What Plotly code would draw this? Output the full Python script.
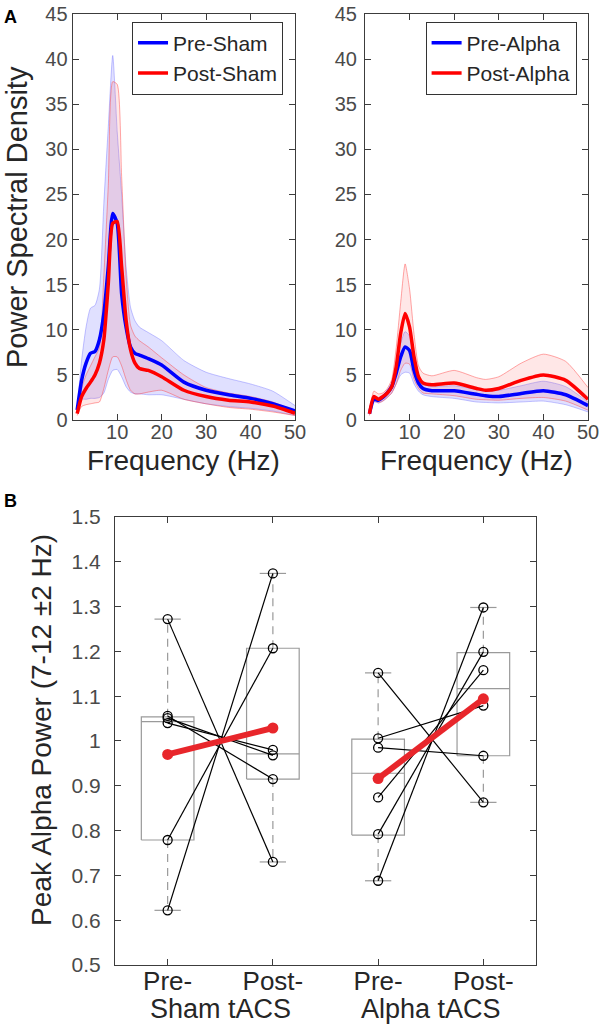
import plotly.graph_objects as go

FONT = "Arial, Liberation Sans, sans-serif"
AXIS_GRAY = '#3c3c3c'
TEXT_GRAY = '#4a4a4a'
TITLE_GRAY = '#262626'
BLUE = '#0000FF'
RED = '#FF0000'

# ---- Panel A (left): sham session, mean PSD with shaded spread
sham_freq = [1, 2, 3, 4, 5, 6, 7, 8, 9, 10, 11, 12, 13, 14, 15, 17, 20, 25, 30, 35, 40, 45, 50]
pre_sham = [1.1, 4.4, 6.3, 7.4, 7.6, 8.9, 11.8, 17.0, 22.9, 21.8, 14.0, 10.3, 8.1, 7.4, 7.2, 6.8, 6.1, 4.2, 3.3, 2.8, 2.4, 1.8, 1.0]
pre_sham_hi = [1.3, 6.6, 10.3, 12.4, 12.7, 14.5, 24.0, 32.5, 40.4, 32.0, 25.0, 17.0, 12.5, 11.0, 10.3, 9.7, 8.8, 6.6, 5.3, 4.6, 4.0, 3.2, 1.6]
pre_sham_lo = [0.9, 2.3, 2.3, 2.4, 2.4, 2.5, 3.0, 4.5, 5.5, 5.6, 4.8, 3.7, 3.1, 2.9, 2.9, 2.8, 2.8, 2.3, 1.8, 1.5, 1.3, 1.0, 0.5]
post_sham = [0.7, 2.6, 3.5, 4.2, 5.0, 6.3, 8.9, 15.1, 21.8, 22.0, 17.0, 11.1, 7.8, 6.3, 5.7, 5.5, 4.8, 3.3, 2.6, 2.2, 2.0, 1.55, 0.75]
post_sham_hi = [0.9, 3.5, 5.0, 6.0, 7.0, 8.0, 16.0, 26.0, 37.5, 37.2, 27.0, 16.0, 10.5, 9.3, 8.8, 8.1, 6.9, 5.0, 3.6, 3.0, 2.6, 2.0, 1.0]
post_sham_lo = [0.5, 1.5, 1.7, 1.8, 1.9, 2.0, 3.5, 5.5, 7.0, 7.0, 6.0, 4.5, 3.3, 2.9, 2.9, 3.1, 3.3, 2.3, 1.8, 1.4, 1.2, 0.9, 0.5]

# ---- Panel A (right): alpha session
alpha_freq = [1, 2, 3, 4, 5, 6, 7, 8, 9, 10, 11, 12, 13, 15, 20, 25, 27, 30, 35, 40, 45, 50]
pre_alpha = [0.7, 2.3, 2.2, 2.5, 3.0, 3.7, 5.2, 7.0, 8.1, 7.7, 5.5, 4.1, 3.5, 3.25, 3.25, 2.85, 2.7, 2.6, 2.95, 3.25, 2.8, 1.6]
pre_alpha_hi = [0.8, 2.6, 2.5, 2.8, 3.3, 4.2, 6.0, 8.5, 9.8, 9.3, 6.5, 4.6, 4.0, 3.7, 3.8, 3.4, 3.3, 3.3, 3.8, 4.3, 3.7, 2.0]
pre_alpha_lo = [0.6, 2.0, 1.9, 2.1, 2.5, 3.0, 4.0, 5.0, 5.3, 5.2, 4.0, 3.2, 2.8, 2.6, 2.4, 2.0, 1.95, 1.9, 2.0, 2.1, 1.7, 0.9]
post_alpha = [0.7, 2.6, 2.3, 2.6, 3.0, 3.7, 5.9, 9.6, 11.8, 10.3, 7.0, 4.8, 4.1, 3.9, 4.1, 3.5, 3.3, 3.5, 4.4, 5.0, 4.4, 2.3]
post_alpha_hi = [0.9, 3.2, 2.9, 3.0, 3.5, 4.5, 8.0, 13.0, 17.3, 14.5, 9.5, 6.0, 5.2, 4.9, 5.5, 4.7, 4.5, 4.8, 6.3, 7.3, 6.5, 3.6]
post_alpha_lo = [0.5, 2.2, 1.9, 2.1, 2.5, 3.0, 4.0, 5.5, 6.3, 6.2, 4.5, 3.5, 3.0, 2.9, 2.7, 2.3, 2.25, 2.2, 2.4, 2.5, 2.1, 1.1]

# ---- Panel B: peak alpha power per subject (paired pre/post)
cond_x = [1, 2, 3, 4]
cond_labels = ['Pre-', 'Post-', 'Pre-', 'Post-']
group_labels = ['Sham tACS', 'Alpha tACS']
sham_pre_vals = [1.272, 1.056, 1.051, 1.040, 0.779, 0.622]
sham_post_vals = [0.730, 0.915, 0.968, 0.980, 1.207, 1.374]
alpha_pre_vals = [1.152, 1.006, 0.985, 0.874, 0.792, 0.688]
alpha_post_vals = [0.863, 1.079, 0.967, 1.158, 1.199, 1.298]
group_means = [0.970, 1.029, 0.916, 1.094]
box_q1 = [0.779, 0.915, 0.790, 0.967]
box_med = [1.043, 0.971, 0.928, 1.117]
box_q3 = [1.054, 1.207, 1.004, 1.197]
box_lo = [0.622, 0.730, 0.688, 0.863]
box_hi = [1.272, 1.374, 1.152, 1.298]

fig = go.Figure()


def add_band(freq, hi, lo, fill, edge, xa, ya):
    fig.add_trace(go.Scatter(x=freq, y=hi, mode='lines', line=dict(color=edge, width=1, shape='spline', smoothing=0.6),
                             xaxis=xa, yaxis=ya, showlegend=False, hoverinfo='skip'))
    fig.add_trace(go.Scatter(x=freq, y=lo, mode='lines', line=dict(color=edge, width=1, shape='spline', smoothing=0.6),
                             fill='tonexty', fillcolor=fill, xaxis=xa, yaxis=ya, showlegend=False, hoverinfo='skip'))


def add_mean(freq, mean, color, name, xa, ya, legend):
    fig.add_trace(go.Scatter(x=freq, y=mean, mode='lines', name=name,
                             line=dict(color=color, width=3.5, shape='spline', smoothing=0.6),
                             xaxis=xa, yaxis=ya, legend=legend))


BLUE_FILL = 'rgba(70,70,255,0.17)'
BLUE_EDGE = 'rgba(90,90,255,0.35)'
RED_FILL = 'rgba(255,60,60,0.12)'
RED_EDGE = 'rgba(255,60,60,0.45)'

add_band(sham_freq, pre_sham_hi, pre_sham_lo, BLUE_FILL, BLUE_EDGE, 'x', 'y')
add_band(sham_freq, post_sham_hi, post_sham_lo, RED_FILL, RED_EDGE, 'x', 'y')
add_mean(sham_freq, pre_sham, BLUE, 'Pre-Sham', 'x', 'y', 'legend')
add_mean(sham_freq, post_sham, RED, 'Post-Sham', 'x', 'y', 'legend')

add_band(alpha_freq, pre_alpha_hi, pre_alpha_lo, BLUE_FILL, BLUE_EDGE, 'x2', 'y2')
add_band(alpha_freq, post_alpha_hi, post_alpha_lo, RED_FILL, RED_EDGE, 'x2', 'y2')
add_mean(alpha_freq, pre_alpha, BLUE, 'Pre-Alpha', 'x2', 'y2', 'legend2')
add_mean(alpha_freq, post_alpha, RED, 'Post-Alpha', 'x2', 'y2', 'legend2')

# ---- boxes (drawn by hand so whiskers can be dashed)
BOX_GRAY = '#9a9a9a'
half = 0.25
cap = 0.125
for i, cx in enumerate(cond_x):
    fig.add_trace(go.Scatter(
        x=[cx - half, cx + half, cx + half, cx - half, cx - half],
        y=[box_q1[i], box_q1[i], box_q3[i], box_q3[i], box_q1[i]],
        mode='lines', line=dict(color=BOX_GRAY, width=1.2), xaxis='x3', yaxis='y3', showlegend=False))
    fig.add_trace(go.Scatter(x=[cx - half, cx + half], y=[box_med[i], box_med[i]], mode='lines',
                             line=dict(color=BOX_GRAY, width=1.2), xaxis='x3', yaxis='y3', showlegend=False))
    fig.add_trace(go.Scatter(x=[cx, cx, None, cx, cx], y=[box_q3[i], box_hi[i], None, box_q1[i], box_lo[i]],
                             mode='lines', line=dict(color=BOX_GRAY, width=1.2, dash='8px,6px'),
                             xaxis='x3', yaxis='y3', showlegend=False))
    fig.add_trace(go.Scatter(x=[cx - cap, cx + cap, None, cx - cap, cx + cap],
                             y=[box_hi[i], box_hi[i], None, box_lo[i], box_lo[i]],
                             mode='lines', line=dict(color=BOX_GRAY, width=1.2),
                             xaxis='x3', yaxis='y3', showlegend=False))

# ---- subject lines
for pre_vals, post_vals, xp in [(sham_pre_vals, sham_post_vals, 1), (alpha_pre_vals, alpha_post_vals, 3)]:
    for a, b in zip(pre_vals, post_vals):
        fig.add_trace(go.Scatter(x=[xp, xp + 1], y=[a, b], mode='lines+markers',
                                 line=dict(color='black', width=1.2),
                                 marker=dict(symbol='circle-open', size=9, color='black', line=dict(width=1.3)),
                                 xaxis='x3', yaxis='y3', showlegend=False))

# ---- group means
MEAN_RED = '#E8262B'
for k in (0, 2):
    fig.add_trace(go.Scatter(x=[cond_x[k], cond_x[k + 1]], y=[group_means[k], group_means[k + 1]],
                             mode='lines+markers', line=dict(color=MEAN_RED, width=6),
                             marker=dict(size=11, color=MEAN_RED),
                             xaxis='x3', yaxis='y3', showlegend=False))

axis_common = dict(showline=True, linecolor=AXIS_GRAY, linewidth=1.2, mirror='ticks', ticks='inside',
                   ticklen=6, tickcolor=AXIS_GRAY, showgrid=False, zeroline=False, automargin=False,
                   tickfont=dict(family=FONT, size=20, color=TEXT_GRAY))

psd_x = dict(axis_common, range=[0, 50], tickvals=[10, 20, 30, 40, 50], ticklabelstandoff=-6)
psd_y = dict(axis_common, range=[0, 45], tickvals=list(range(0, 50, 5)))

legend_style = dict(yanchor='top', xanchor='right', y=0.979, bgcolor='white', bordercolor='#333',
                    borderwidth=1, font=dict(family=FONT, size=21, color=TITLE_GRAY),
                    tracegroupgap=0, itemwidth=30, traceorder='normal')

title_font = dict(family=FONT, size=28, color=TITLE_GRAY)


def label(text, x, y, xref='paper', angle=0, font=title_font, xanchor='center', yanchor='middle'):
    return dict(text=text, x=x, y=y, xref=xref, yref='paper', xanchor=xanchor, yanchor=yanchor,
                textangle=angle, showarrow=False, font=font)


fig.update_layout(
    width=600, height=1028,
    margin=dict(l=0, r=0, t=0, b=0, autoexpand=False),
    paper_bgcolor='white', plot_bgcolor='white',
    font=dict(family=FONT, color=TEXT_GRAY),
    xaxis=dict(psd_x, domain=[0.1212, 0.4917], anchor='y'),
    yaxis=dict(psd_y, domain=[0.5914, 0.9864], anchor='x'),
    xaxis2=dict(psd_x, domain=[0.6083, 0.98], anchor='y2'),
    yaxis2=dict(psd_y, domain=[0.5914, 0.9864], anchor='x2', ticklabelstandoff=3),
    xaxis3=dict(axis_common, domain=[0.1917, 0.8933], anchor='y3', range=[0.5, 4.5],
                tickvals=cond_x, ticktext=cond_labels, ticklabelstandoff=-7,
                tickfont=dict(family=FONT, size=26, color=TITLE_GRAY)),
    yaxis3=dict(axis_common, domain=[0.0613, 0.4971], anchor='x3', range=[0.5, 1.5],
                tickvals=[0.5, 0.6, 0.7, 0.8, 0.9, 1.0, 1.1, 1.2, 1.3, 1.4, 1.5],
                ticktext=['0.5', '0.6', '0.7', '0.8', '0.9', '1', '1.1', '1.2', '1.3', '1.4', '1.5'],
                ticklabelstandoff=9, tickfont=dict(family=FONT, size=21, color=TEXT_GRAY)),
    legend=dict(legend_style, x=0.4717),
    legend2=dict(legend_style, x=0.961),
    annotations=[
        label('<b>A</b>', 0.004, 0.9955, xanchor='left', yanchor='top',
              font=dict(family=FONT, size=18, color='black')),
        label('<b>B</b>', 0.004, 0.5245, xanchor='left', yanchor='top',
              font=dict(family=FONT, size=18, color='black')),
        label('Power Spectral Density', 0.0285, 0.789, angle=-90, font=dict(title_font, size=29)),
        label('Frequency (Hz)', 0.3064, 0.5525),
        label('Frequency (Hz)', 0.7942, 0.5525),
        label('Peak Alpha Power (7-12 ±2 Hz)', 0.07, 0.29, angle=-90),
        label(group_labels[0], 1.5, 0.0185, xref='x3', font=dict(title_font, size=27)),
        label(group_labels[1], 3.5, 0.0185, xref='x3', font=dict(title_font, size=27)),
    ],
)

fig.write_html("out.html", config={'displayModeBar': False},
               post_script="document.body.style.margin='0px';")
